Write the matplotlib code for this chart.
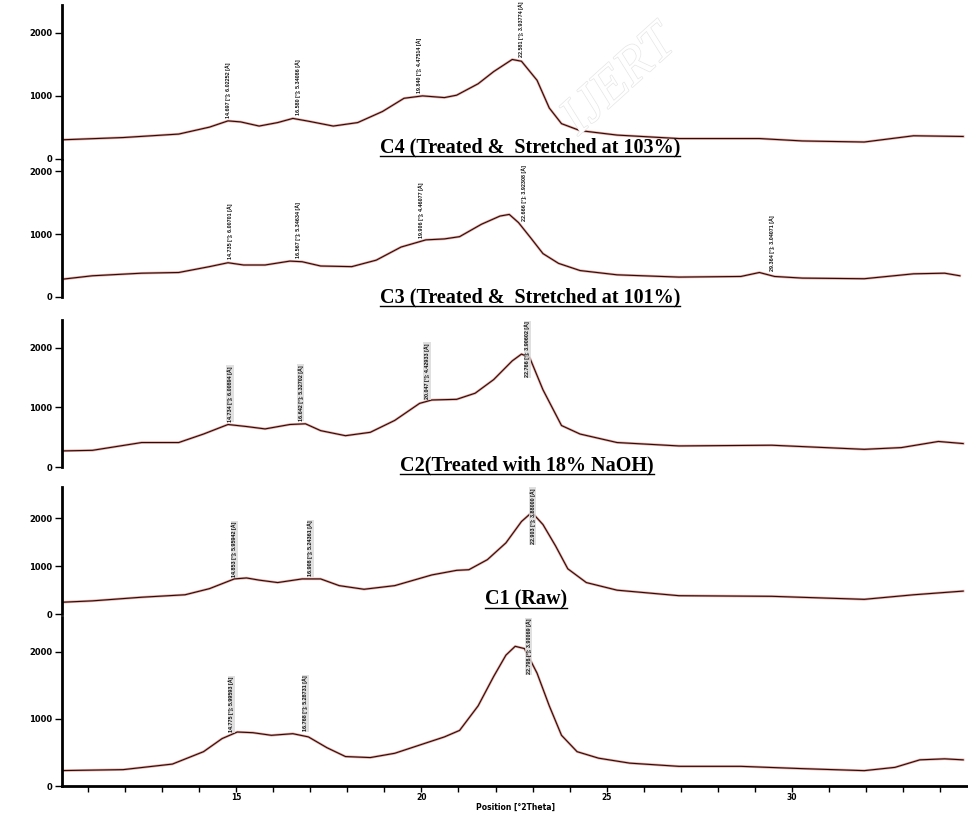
import matplotlib
matplotlib.use("Agg")
import matplotlib.pyplot as plt
import matplotlib.patheffects as pe
import numpy as np
from matplotlib.lines import Line2D

# ---- data (2theta in degrees, intensity in counts) ----
tt_c4 = [10.2, 11.95, 13.45, 14.28, 14.78, 15.12, 15.62, 16.12, 16.53, 16.95, 17.62, 18.28,
         18.95, 19.53, 20.03, 20.62, 20.95, 21.53, 21.95, 22.45, 22.7, 23.12, 23.45, 23.78,
         24.28, 25.28, 26.95, 29.12, 30.28, 31.95, 33.28, 34.62]
cnt_c4 = [302, 340, 395, 505, 604, 588, 522, 577, 643, 599, 522, 577,
          753, 962, 1000, 973, 1011, 1192, 1385, 1577, 1549, 1247, 808, 560,
          450, 379, 324, 324, 286, 269, 368, 357]

tt_c3 = [10.2, 11.12, 12.45, 13.45, 14.28, 14.78, 15.2, 15.78, 16.45, 16.78, 17.28, 18.12,
         18.78, 19.45, 20.12, 20.62, 21.03, 21.62, 22.12, 22.37, 22.62, 22.95, 23.28, 23.7,
         24.28, 25.28, 26.95, 28.62, 29.12, 29.53, 30.28, 31.95, 33.28, 34.12, 34.53]
cnt_c3 = [275, 337, 378, 389, 482, 544, 508, 508, 570, 560, 492, 482,
          585, 793, 907, 922, 958, 1155, 1285, 1311, 1181, 938, 689, 534,
          420, 352, 316, 326, 389, 326, 300, 290, 368, 378, 337]

tt_c2 = [10.2, 11.12, 12.45, 13.45, 14.12, 14.78, 15.28, 15.78, 16.45, 16.87, 17.28, 17.95,
         18.62, 19.28, 19.95, 20.28, 20.95, 21.45, 21.95, 22.45, 22.7, 22.92, 23.28, 23.78,
         24.28, 25.28, 26.95, 29.45, 31.95, 32.95, 33.95, 34.62]
cnt_c2 = [269, 280, 411, 411, 554, 714, 680, 640, 714, 726, 611, 526,
          583, 783, 1069, 1126, 1137, 1240, 1469, 1783, 1897, 1840, 1297, 697,
          554, 411, 354, 366, 297, 326, 429, 394]

tt_c1 = [10.2, 11.12, 12.45, 13.62, 14.28, 14.95, 15.28, 15.62, 16.12, 16.78, 17.28, 17.78,
         18.45, 19.28, 20.28, 20.95, 21.28, 21.78, 22.28, 22.7, 22.98, 23.28, 23.62, 23.95,
         24.45, 25.28, 26.95, 29.45, 31.95, 33.28, 34.62]
cnt_c1 = [242, 274, 350, 401, 529, 732, 752, 707, 656, 732, 732, 592,
          516, 592, 815, 911, 924, 1134, 1484, 1930, 2121, 1866, 1420, 943,
          656, 497, 382, 369, 306, 401, 478]

tt_c0 = [10.2, 11.95, 13.28, 14.12, 14.62, 15.03, 15.45, 15.95, 16.53, 16.95, 17.45, 17.95,
         18.62, 19.28, 19.95, 20.62, 21.03, 21.53, 21.95, 22.28, 22.53, 22.78, 23.12, 23.45,
         23.78, 24.2, 24.78, 25.62, 26.95, 28.62, 30.28, 31.95, 32.78, 33.45, 34.12, 34.62]
cnt_c0 = [229, 244, 327, 512, 707, 805, 795, 756, 780, 732, 571, 439,
          424, 488, 610, 732, 829, 1195, 1634, 1951, 2083, 2049, 1683, 1195,
          756, 512, 415, 341, 293, 293, 259, 229, 278, 390, 405, 390]

# peak labels: position [deg 2theta] and text
pk_c4 = [14.697, 16.580, 19.840, 22.581]
lb_c4 = ["14.697 [°]; 6.02252 [Å]", "16.580 [°]; 5.34086 [Å]",
         "19.840 [°]; 4.47514 [Å]", "22.581 [°]; 3.93774 [Å]"]
pk_c3 = [14.735, 16.567, 19.906, 22.666, 29.364]
lb_c3 = ["14.735 [°]; 6.00701 [Å]", "16.567 [°]; 5.34634 [Å]",
         "19.906 [°]; 4.46077 [Å]", "22.666 [°]; 3.92308 [Å]",
         "29.364 [°]; 3.04071 [Å]"]
pk_c2 = [14.734, 16.642, 20.047, 22.766]
lb_c2 = ["14.734 [°]; 6.00894 [Å]", "16.642 [°]; 5.32702 [Å]",
         "20.047 [°]; 4.42933 [Å]", "22.766 [°]; 3.90602 [Å]"]
pk_c1 = [14.853, 16.908, 22.903]
lb_c1 = ["14.853 [°]; 5.95942 [Å]", "16.908 [°]; 5.24361 [Å]",
         "22.903 [°]; 3.88000 [Å]"]
pk_c0 = [14.775, 16.768, 22.798]
lb_c0 = ["14.775 [°]; 5.99593 [Å]", "16.768 [°]; 5.28731 [Å]",
         "22.798 [°]; 3.90069 [Å]"]

captions = ["C4 (Treated &  Stretched at 103%)",
            "C3 (Treated &  Stretched at 101%)",
            "C2(Treated with 18% NaOH)",
            "C1 (Raw)"]
yticks = [0, 1000, 2000]
xticks = [15, 20, 25, 30]

W, H = 968, 813
fig = plt.figure(figsize=(W / 100, H / 100), dpi=100)

# panel frames in pixels: (top, bottom at y=0, y max)
frames = [(5, 159, 2440), (160, 297, 2175), (320, 467, 2470), (487, 614, 2650), (617, 786, 2520)]
xl = 62
series = [(tt_c4, cnt_c4, pk_c4, lb_c4, False),
          (tt_c3, cnt_c3, pk_c3, lb_c3, False),
          (tt_c2, cnt_c2, pk_c2, lb_c2, True),
          (tt_c1, cnt_c1, pk_c1, lb_c1, True),
          (tt_c0, cnt_c0, pk_c0, lb_c0, True)]

lab_font = dict(fontsize=3.9, fontweight="bold", family="Liberation Sans")
lab_len = 52  # approx. label length in pixels

# watermark (drawn first, very faint)
fig.text(0.64, 0.90, "IJERT", fontsize=38, family="Liberation Serif", style="italic",
         rotation=42, ha="center", va="center", color="white", zorder=0,
         path_effects=[pe.withStroke(linewidth=1.0, foreground="#e6e6e6")])

for i, ((top, bot, ymax), (tt, cnt, pk, lb, boxed)) in enumerate(zip(frames, series)):
    ax = fig.add_axes([xl / W, 1 - bot / H, (W - xl) / W, (bot - top) / H])
    ax.patch.set_alpha(0)
    ax.plot(tt, cnt, color="#d04a3c", lw=1.8, alpha=0.5, solid_joinstyle="round")
    ax.plot(tt, cnt, color="#2a0c0a", lw=0.8, solid_joinstyle="round")
    ax.set_xlim(10.3, 34.75)
    ax.set_ylim(0, ymax)
    for s in ["top", "right"]:
        ax.spines[s].set_visible(False)
    ax.spines["left"].set_linewidth(2)
    ax.set_yticks(yticks)
    ax.set_yticklabels([str(v) for v in yticks])
    ax.tick_params(axis="y", direction="out", length=5, width=1, labelsize=6, pad=2)
    for t in ax.get_yticklabels():
        t.set_fontweight("bold")
    if i < 4:
        ax.spines["bottom"].set_visible(False)
        ax.set_xticks([])
    else:
        ax.spines["bottom"].set_linewidth(2)
        ax.set_xticks(xticks)
        ax.set_xticks(np.arange(11, 35), minor=True)
        ax.tick_params(axis="x", which="both", direction="out", length=4, width=1,
                       labelsize=5.5, pad=1)
        for t in ax.get_xticklabels():
            t.set_fontweight("bold")
        ax.set_xlabel("Position [°2Theta]", fontsize=5.5, fontweight="bold", labelpad=1)
    # peak labels
    px_per_count = (bot - top) / ymax
    for p, s in zip(pk, lb):
        yv = np.interp(p, tt, cnt)
        kw = dict(rotation=90, ha="center", color="#111111", **lab_font)
        if boxed:
            kw["bbox"] = dict(boxstyle="square,pad=0.15", fc="#d9d9d9", ec="none", alpha=0.8)
        if yv + 60 + lab_len / px_per_count > ymax * 1.01:
            ax.text(p + 0.1, ymax * 0.99, s, va="top", **kw)
        else:
            ax.text(p + 0.1, yv + 60, s, va="bottom", **kw)

# captions, underlined
cap_pos = [(530, 152), (530, 302), (527, 470), (526, 604)]
caps = []
for c, (cx, cy) in zip(captions, cap_pos):
    caps.append(fig.text(cx / W, 1 - cy / H, c, ha="center", va="baseline", fontsize=14.5,
                         fontweight="bold", family="Liberation Serif"))
fig.canvas.draw()
r = fig.canvas.get_renderer()
for t in caps:
    bb = t.get_window_extent(r)
    y = (bb.y0 + 1) / H
    fig.add_artist(Line2D([bb.x0 / W, bb.x1 / W], [y, y], color="black", lw=1,
                          transform=fig.transFigure))

fig.savefig("out.png", dpi=100)
